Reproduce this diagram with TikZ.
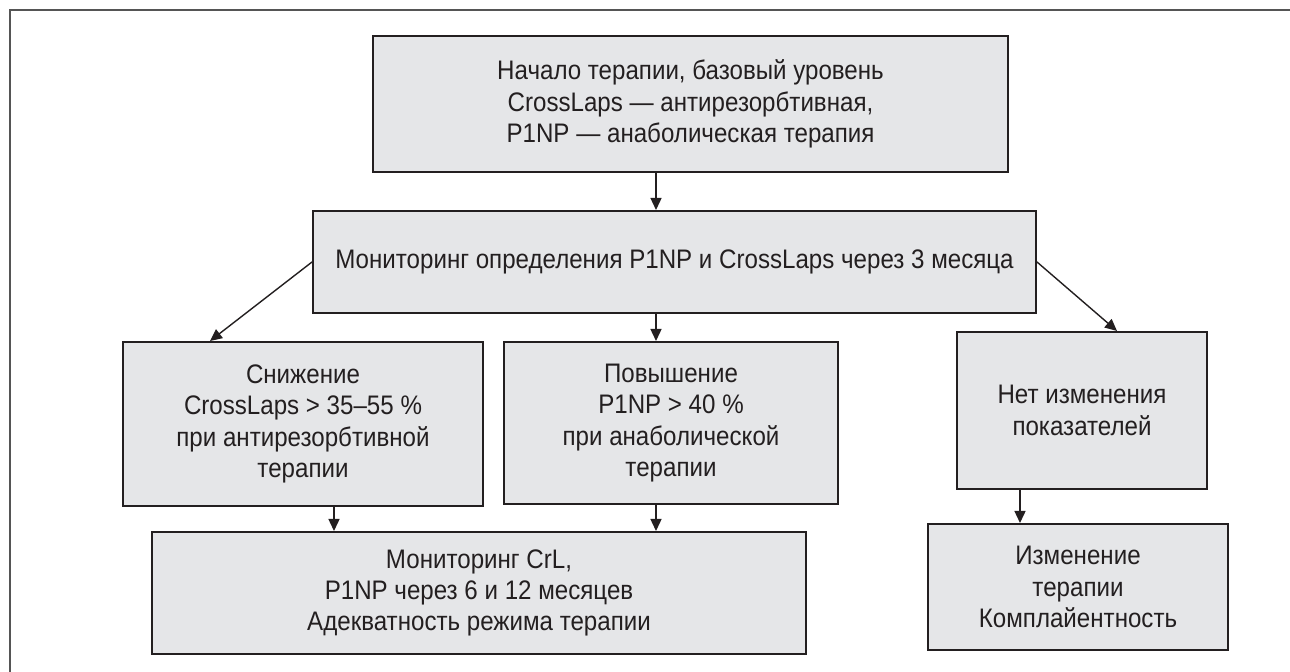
\documentclass[tikz,border=0pt]{standalone}
\usepackage{fontspec}
\setmainfont{Liberation Sans}[FakeStretch=0.9]
\usetikzlibrary{arrows.meta}
\definecolor{boxfill}{RGB}{229,230,232}
\definecolor{boxline}{RGB}{35,31,32}
\definecolor{framecol}{RGB}{85,85,85}
\definecolor{txt}{RGB}{35,31,32}
\begin{document}
\begin{tikzpicture}[x=0.5pt,y=-0.5pt,
  flowbox/.style={draw=boxline, fill=boxfill, line width=1pt, inner sep=0pt,
    align=center, text=txt, font=\fontsize{13.4}{15.6}\selectfont},
  conn/.style={draw=boxline, line width=0.7pt, -{Triangle[length=6pt,width=5.5pt]}}]
\useasboundingbox (0,0) rectangle (1290,672);
\fill[white] (0,0) rectangle (1290,672);
\draw[framecol, line width=1pt] (10,672) -- (10,10) -- (1290,10);

\node[flowbox, minimum width=317.5pt, minimum height=68pt] (A) at (690.5,104)
  {Начало терапии, базовый уровень\\CrossLaps — антирезорбтивная,\\P1NP — анаболическая терапия};
\node[flowbox, minimum width=361.5pt, minimum height=51pt] (B) at (674.5,262)
  {Мониторинг определения P1NP и CrossLaps через 3 месяца};
\node[flowbox, minimum width=180pt, minimum height=82pt] (C) at (303,424)
  {Снижение\\CrossLaps > 35–55 \%\\при антирезорбтивной\\терапии};
\node[flowbox, minimum width=167pt, minimum height=81pt] (D) at (671,423)
  {Повышение\\P1NP > 40 \%\\при анаболической\\терапии};
\node[flowbox, minimum width=327pt, minimum height=61pt] (E) at (479,593)
  {Мониторинг CrL,\\P1NP через 6 и 12 месяцев\\Адекватность режима терапии};
\node[flowbox, minimum width=125pt, minimum height=78.5pt] (F) at (1082,410.5)
  {Нет изменения\\показателей};
\node[flowbox, minimum width=150pt, minimum height=63pt] (G) at (1078,587)
  {Изменение\\терапии\\Комплайентность};

\coordinate (axis) at (656,0);
\coordinate (cx) at (334,0);
\coordinate (fx) at (1020,0);
\coordinate (lx) at (210,0);
\coordinate (rx) at (1117,0);

\draw[conn] (A.south -| axis) -- (B.north -| axis);
\draw[conn] (B.south -| axis) -- (D.north -| axis);
\draw[conn] (D.south -| axis) -- (E.north -| axis);
\draw[conn] (C.south -| cx) -- (E.north -| cx);
\draw[conn] (F.south -| fx) -- (G.north -| fx);
\draw[conn] (B.west) -- (C.north -| lx);
\draw[conn] (B.east) -- (F.north -| rx);
\end{tikzpicture}
\end{document}
